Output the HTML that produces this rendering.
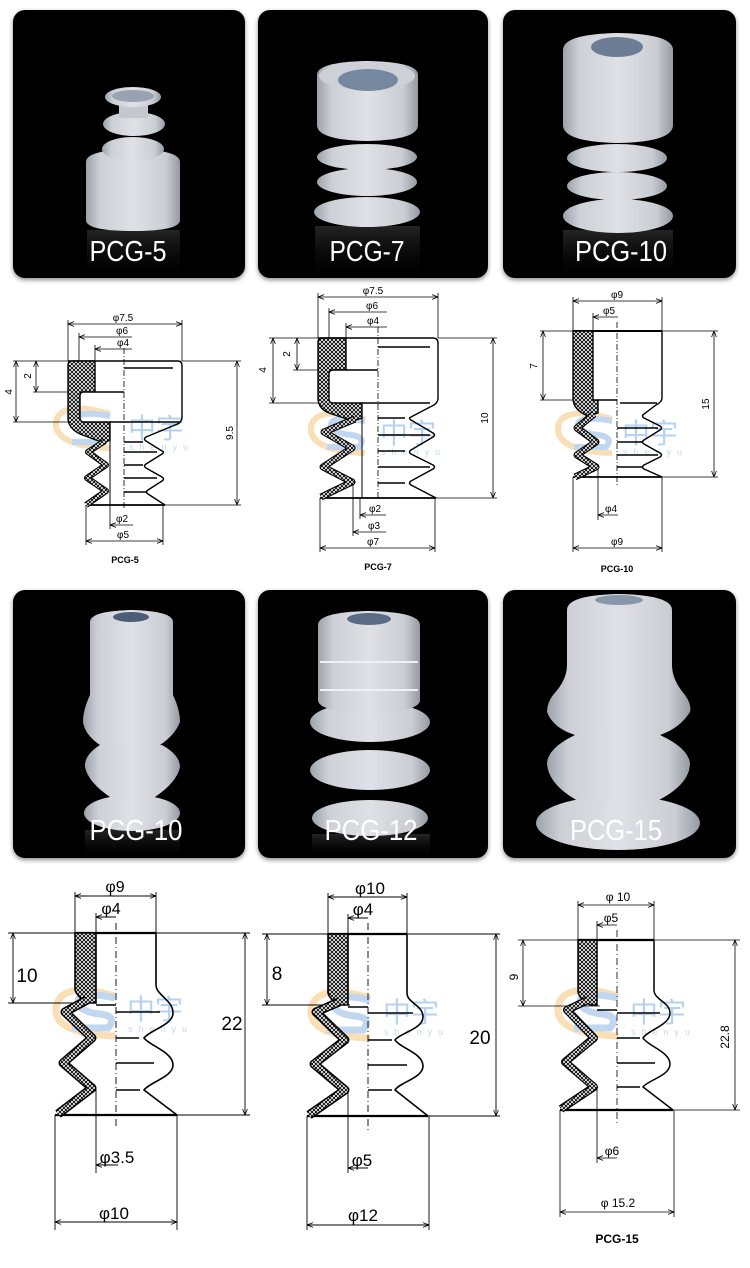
<!DOCTYPE html>
<html><head><meta charset="utf-8"><style>
html,body{margin:0;padding:0;background:#fff;}
svg{display:block;}
text{font-family:"Liberation Sans","Noto Sans CJK SC",sans-serif;}
</style></head><body>
<svg width="750" height="1268" viewBox="0 0 750 1268" xmlns="http://www.w3.org/2000/svg">
<defs>
<pattern id="h" width="4" height="4" patternUnits="userSpaceOnUse"><rect width="4" height="4" fill="#fff"/><path d="M-1,-1L5,5M5,-1L-1,5" stroke="#000" stroke-width="0.9"/></pattern>
<marker id="a" viewBox="0 0 10 10" refX="10" refY="5" markerWidth="7" markerHeight="6" markerUnits="userSpaceOnUse" orient="auto-start-reverse"><path d="M0,1L10,5L0,9" fill="none" stroke="#000" stroke-width="1.3"/></marker>
<linearGradient id="sil" x1="0" x2="1" y1="0" y2="0"><stop offset="0" stop-color="#9da2aa"/><stop offset=".15" stop-color="#cdd0d6"/><stop offset=".5" stop-color="#dfe1e6"/><stop offset=".85" stop-color="#cacdd3"/><stop offset="1" stop-color="#959aa2"/></linearGradient>
<linearGradient id="refl" x1="0" x2="0" y1="0" y2="1"><stop offset="0" stop-color="#666" stop-opacity=".35"/><stop offset="1" stop-color="#222" stop-opacity="0"/></linearGradient>
<filter id="sh" x="-10%" y="-10%" width="120%" height="120%"><feDropShadow dx="0" dy="2" stdDeviation="2.5" flood-color="#000" flood-opacity=".45"/></filter>
</defs>

<!-- ============ PHOTO TILES ============ -->
<g filter="url(#sh)">
<rect x="13" y="10" width="232" height="268" rx="12" fill="#050505"/>
<rect x="258" y="10" width="230" height="268" rx="12" fill="#050505"/>
<rect x="503" y="10" width="233" height="268" rx="12" fill="#050505"/>
<rect x="13" y="590" width="232" height="268" rx="12" fill="#050505"/>
<rect x="258" y="590" width="230" height="268" rx="12" fill="#050505"/>
<rect x="503" y="590" width="233" height="268" rx="12" fill="#050505"/>
</g>

<!-- PCG-5 photo -->
<rect x="87" y="230" width="93" height="46" fill="url(#refl)"/>
<path d="M86,162 Q86,150 133,149 Q180,150 180,162 L180,220 Q180,231 133,231 Q86,231 86,220 Z" fill="url(#sil)"/>
<ellipse cx="133" cy="149" rx="31" ry="12" fill="url(#sil)"/>
<ellipse cx="134" cy="124" rx="31" ry="12" fill="url(#sil)"/>
<rect x="119" y="100" width="29" height="18" fill="#c4c7cd"/>
<ellipse cx="133" cy="97" rx="28" ry="10" fill="url(#sil)"/>
<ellipse cx="133" cy="96" rx="21" ry="6" fill="#98a2b1"/>
<text x="128" y="261" font-size="29" fill="#fff" text-anchor="middle" textLength="77" lengthAdjust="spacingAndGlyphs">PCG-5</text>

<!-- PCG-7 photo -->
<rect x="315" y="226" width="105" height="50" fill="url(#refl)"/>
<ellipse cx="367" cy="212" rx="53" ry="15" fill="url(#sil)"/>
<ellipse cx="367" cy="182" rx="50" ry="14" fill="url(#sil)"/>
<ellipse cx="367" cy="157" rx="50" ry="13" fill="url(#sil)"/>
<path d="M317,75 Q317,62 367,61 Q418,62 418,75 L418,125 Q418,140 367,141 Q317,140 317,125 Z" fill="url(#sil)"/>
<ellipse cx="367" cy="76" rx="48" ry="14" fill="#cdd1d7"/>
<ellipse cx="368" cy="80" rx="30" ry="11" fill="#7688a0"/>
<text x="367" y="261" font-size="29" fill="#fff" text-anchor="middle" textLength="75" lengthAdjust="spacingAndGlyphs">PCG-7</text>

<!-- PCG-10 photo -->
<rect x="563" y="230" width="110" height="46" fill="url(#refl)"/>
<ellipse cx="618" cy="216" rx="55" ry="17" fill="url(#sil)"/>
<ellipse cx="617" cy="186" rx="50" ry="14" fill="url(#sil)"/>
<ellipse cx="617" cy="158" rx="50" ry="14" fill="url(#sil)"/>
<path d="M563,50 Q563,34 618,33 Q673,34 673,50 L673,125 Q673,142 618,143 Q563,142 563,125 Z" fill="url(#sil)"/>
<ellipse cx="617" cy="47" rx="26" ry="10" fill="#6d7d95"/>
<text x="621" y="261" font-size="29" fill="#fff" text-anchor="middle" textLength="92" lengthAdjust="spacingAndGlyphs">PCG-10</text>

<!-- Row 2 PCG-10 photo -->
<rect x="85" y="830" width="95" height="26" fill="url(#refl)"/>
<ellipse cx="132" cy="813" rx="48" ry="18" fill="url(#sil)"/>
<path d="M100,745 Q84,755 85,767 Q88,782 110,797 L155,797 Q177,782 180,767 Q180,755 162,745 Z" fill="url(#sil)"/>
<path d="M90,622 Q90,611 131,610 Q173,611 173,622 L173,695 Q180,710 180,722 Q175,735 160,745 L100,745 Q85,735 83,722 Q83,710 90,695 Z" fill="url(#sil)"/>
<ellipse cx="131" cy="617" rx="18" ry="5" fill="#4c5d75"/>
<text x="136" y="840" font-size="29" fill="#fff" text-anchor="middle" textLength="93" lengthAdjust="spacingAndGlyphs">PCG-10</text>

<!-- Row 2 PCG-12 photo -->
<rect x="312" y="834" width="118" height="22" fill="url(#refl)"/>
<ellipse cx="370" cy="818" rx="58" ry="18" fill="url(#sil)"/>
<ellipse cx="370" cy="770" rx="60" ry="20" fill="url(#sil)"/>
<ellipse cx="370" cy="722" rx="60" ry="20" fill="url(#sil)"/>
<path d="M318,625 Q318,612 369,611 Q420,612 420,625 L420,700 Q420,712 369,713 Q318,712 318,700 Z" fill="url(#sil)"/>
<path d="M320,662 L418,662 M320,690 L418,690" stroke="#eef1f5" stroke-width="2"/>
<ellipse cx="369" cy="619" rx="22" ry="6" fill="#5a6c85"/>
<text x="371" y="840" font-size="29" fill="#fff" text-anchor="middle" textLength="93" lengthAdjust="spacingAndGlyphs">PCG-12</text>

<!-- Row 2 PCG-15 photo -->
<ellipse cx="618" cy="823" rx="82" ry="27" fill="url(#sil)"/>
<path d="M575,735 Q548,748 547,763 Q548,785 580,802 L655,802 Q690,785 690,763 Q688,748 660,735 Z" fill="url(#sil)"/>
<path d="M567,610 Q567,595 619,594 Q672,595 672,610 L672,665 Q672,680 685,695 Q692,705 690,712 Q680,728 660,735 L575,735 Q553,728 547,712 Q547,703 553,695 Q567,680 567,665 Z" fill="url(#sil)"/>
<ellipse cx="619" cy="600" rx="24" ry="5" fill="#8896aa"/>
<text x="616" y="840" font-size="29" fill="#fff" text-anchor="middle" textLength="92" lengthAdjust="spacingAndGlyphs">PCG-15</text>

<!-- ============ WATERMARKS ============ -->
<g opacity="0.8">
<path d="M110,414 Q60,400 56,422 Q54,446 110,448" fill="none" stroke="#f8d7a5" stroke-width="6"/>
<path d="M110,416 Q76,410 76,420 Q78,428 96,430 Q112,432 104,442 L72,442" fill="none" stroke="#b2cdec" stroke-width="6"/>
<text x="128" y="438" font-size="28" fill="#a5c8ee">中宇</text>
<text x="129" y="450" font-size="9" fill="#b5d0ee" letter-spacing="6">shenyu</text>

<path d="M365,419 Q315,405 311,427 Q309,451 365,453" fill="none" stroke="#f8d7a5" stroke-width="6"/>
<path d="M365,421 Q331,415 331,425 Q333,433 351,435 Q367,437 359,447 L327,447" fill="none" stroke="#b2cdec" stroke-width="6"/>
<text x="380" y="443" font-size="28" fill="#a5c8ee">中宇</text>
<text x="381" y="455" font-size="9" fill="#b5d0ee" letter-spacing="6">shenyu</text>

<path d="M612,419 Q562,405 558,427 Q556,451 612,453" fill="none" stroke="#f8d7a5" stroke-width="6"/>
<path d="M612,421 Q578,415 578,425 Q580,433 598,435 Q614,437 606,447 L574,447" fill="none" stroke="#b2cdec" stroke-width="6"/>
<text x="622" y="443" font-size="28" fill="#a5c8ee">中宇</text>
<text x="623" y="455" font-size="9" fill="#b5d0ee" letter-spacing="6">shenyu</text>

<path d="M115,996 Q60,980 56,1008 Q54,1034 115,1036" fill="none" stroke="#f8d7a5" stroke-width="7"/>
<path d="M115,998 Q78,990 78,1002 Q80,1012 100,1014 Q118,1016 108,1028 L72,1028" fill="none" stroke="#b2cdec" stroke-width="7"/>
<text x="127" y="1019" font-size="28" fill="#a5c8ee">中宇</text>
<text x="128" y="1032" font-size="9" fill="#b5d0ee" letter-spacing="6">shenyu</text>

<path d="M370,998 Q315,982 311,1010 Q309,1036 370,1038" fill="none" stroke="#f8d7a5" stroke-width="7"/>
<path d="M370,1000 Q333,992 333,1004 Q335,1014 355,1016 Q373,1018 363,1030 L327,1030" fill="none" stroke="#b2cdec" stroke-width="7"/>
<text x="383" y="1022" font-size="28" fill="#a5c8ee">中宇</text>
<text x="384" y="1035" font-size="9" fill="#b5d0ee" letter-spacing="6">shenyu</text>

<path d="M618,996 Q562,980 558,1008 Q556,1034 618,1036" fill="none" stroke="#f8d7a5" stroke-width="7"/>
<path d="M618,998 Q580,990 580,1002 Q582,1012 602,1014 Q620,1016 610,1028 L574,1028" fill="none" stroke="#b2cdec" stroke-width="7"/>
<text x="630" y="1022" font-size="28" fill="#a5c8ee">中宇</text>
<text x="631" y="1035" font-size="9" fill="#b5d0ee" letter-spacing="6">shenyu</text>
</g>

<!-- ============ DRAWING 1 : PCG-5 ============ -->
<g fill="none" stroke="#000">
<g stroke-width="0.8">
<line x1="68" y1="324" x2="182" y2="324" marker-start="url(#a)" marker-end="url(#a)"/>
<line x1="68" y1="320" x2="68" y2="361"/><line x1="182" y1="320" x2="182" y2="361"/>
<line x1="79" y1="337" x2="132" y2="337" marker-start="url(#a)"/>
<line x1="79" y1="333" x2="79" y2="361"/>
<line x1="95" y1="349" x2="132" y2="349" marker-start="url(#a)"/>
<line x1="95" y1="345" x2="95" y2="361"/>
<line x1="124" y1="348" x2="124" y2="508" stroke-dasharray="6,2,1,2"/>
<line x1="16" y1="361" x2="16" y2="422" marker-start="url(#a)" marker-end="url(#a)"/>
<line x1="13" y1="361" x2="68" y2="361"/><line x1="13" y1="422" x2="68" y2="422"/>
<line x1="36" y1="361" x2="36" y2="392" marker-start="url(#a)" marker-end="url(#a)"/>
<line x1="33" y1="392" x2="95" y2="392"/>
<line x1="237" y1="361" x2="237" y2="505" marker-start="url(#a)" marker-end="url(#a)"/>
<line x1="182" y1="361" x2="241" y2="361"/><line x1="165" y1="505" x2="241" y2="505"/>
<line x1="110" y1="525" x2="133" y2="525" marker-start="url(#a)"/>
<line x1="110" y1="490" x2="110" y2="529"/>
<line x1="86" y1="541" x2="163" y2="541" marker-start="url(#a)" marker-end="url(#a)"/>
<line x1="86" y1="505" x2="86" y2="545"/><line x1="163" y1="505" x2="163" y2="545"/>
</g>
<g stroke-width="1.4">
<path d="M68,361 L178,361 Q182,361 182,366 L182,417 Q182,423 175,425 L146,437 Q143,439 146,441 L162,451 Q165,452 162,454 L146,464 Q143,466 146,468 L162,477 Q165,479 162,481 L148,490 Q145,492 148,494 L165,505"/>
<line x1="86" y1="505" x2="165" y2="505" stroke-width="1.8"/>
<line x1="124" y1="368" x2="173" y2="368"/>
<line x1="95" y1="392" x2="124" y2="392"/>
<line x1="110" y1="422" x2="180" y2="422"/>
<line x1="124" y1="442" x2="143" y2="442"/>
<line x1="124" y1="452" x2="157" y2="452"/>
<line x1="124" y1="465" x2="143" y2="465"/>
<line x1="124" y1="478" x2="157" y2="478"/>
<line x1="124" y1="492" x2="147" y2="492"/>
<line x1="110" y1="422" x2="110" y2="505" stroke-width="1"/>
<path d="M68,365 Q68,361 72,361 L95,361 L95,392 L83,392 Q80,392 80,396 L80,418 Q80,422 84,422 L110,422 L110,440 L104,443 L80,434 Q68,428 68,418 Z" fill="url(#h)"/>
<polyline points="105,441 88,452 106,465 87,478 106,491 86,505" stroke-width="6" stroke-linejoin="round"/>
<polyline points="105,441 88,452 106,465 87,478 106,491 86,505" stroke="url(#h)" stroke-width="3.8" stroke-linejoin="round"/>
</g>
</g>
<g font-size="10" fill="#000" text-anchor="middle">
<text x="123" y="321">φ7.5</text>
<text x="122" y="334">φ6</text>
<text x="123" y="346">φ4</text>
<text x="9" y="392" transform="rotate(-90 9 392)" dy="3">4</text>
<text x="28" y="376" transform="rotate(-90 28 376)" dy="3">2</text>
<text x="230" y="433" transform="rotate(-90 230 433)" dy="3">9.5</text>
<text x="122" y="522">φ2</text>
<text x="123" y="538">φ5</text>
<text x="125" y="563" font-size="9" font-weight="bold">PCG-5</text>
</g>

<!-- ============ DRAWING 2 : PCG-7 ============ -->
<g fill="none" stroke="#000">
<g stroke-width="0.8">
<line x1="318" y1="297" x2="438" y2="297" marker-start="url(#a)" marker-end="url(#a)"/>
<line x1="318" y1="293" x2="318" y2="338"/><line x1="438" y1="293" x2="438" y2="338"/>
<line x1="329" y1="312" x2="387" y2="312" marker-start="url(#a)"/>
<line x1="329" y1="308" x2="329" y2="338"/>
<line x1="346" y1="327" x2="387" y2="327" marker-start="url(#a)"/>
<line x1="346" y1="323" x2="346" y2="338"/>
<line x1="378" y1="327" x2="378" y2="500" stroke-dasharray="6,2,1,2"/>
<line x1="273" y1="338" x2="273" y2="403" marker-start="url(#a)" marker-end="url(#a)"/>
<line x1="269" y1="338" x2="318" y2="338"/><line x1="269" y1="403" x2="318" y2="403"/>
<line x1="297" y1="338" x2="297" y2="370" marker-start="url(#a)" marker-end="url(#a)"/>
<line x1="293" y1="370" x2="346" y2="370"/>
<line x1="493" y1="338" x2="493" y2="498" marker-start="url(#a)" marker-end="url(#a)"/>
<line x1="438" y1="338" x2="497" y2="338"/><line x1="436" y1="498" x2="497" y2="498"/>
<line x1="360" y1="515" x2="386" y2="515" marker-start="url(#a)"/>
<line x1="360" y1="498" x2="360" y2="519"/>
<line x1="353" y1="532" x2="386" y2="532" marker-start="url(#a)"/>
<line x1="353" y1="483" x2="353" y2="536"/>
<line x1="320" y1="548" x2="435" y2="548" marker-start="url(#a)" marker-end="url(#a)"/>
<line x1="320" y1="498" x2="320" y2="552"/><line x1="435" y1="498" x2="435" y2="552"/>
</g>
<g stroke-width="1.4">
<path d="M318,338 L433,338 Q438,338 438,343 L438,398 Q438,404 430,407 L411,417 Q408,418 411,420 L433,433 Q436,435 433,437 L411,450 Q408,452 411,454 L433,465 Q436,467 433,469 L411,481 Q408,483 411,485 L436,498"/>
<line x1="320" y1="498" x2="436" y2="498" stroke-width="1.8"/>
<line x1="378" y1="347" x2="430" y2="347"/>
<line x1="346" y1="370" x2="378" y2="370"/>
<line x1="362" y1="403" x2="430" y2="403"/>
<line x1="378" y1="418" x2="405" y2="418"/>
<line x1="378" y1="435" x2="430" y2="435"/>
<line x1="378" y1="451" x2="405" y2="451"/>
<line x1="378" y1="467" x2="430" y2="467"/>
<line x1="378" y1="483" x2="405" y2="483"/>
<line x1="362" y1="403" x2="362" y2="498" stroke-width="1"/>
<path d="M318,342 Q318,338 322,338 L346,338 L346,370 L333,370 Q329,370 329,374 L329,399 Q329,403 333,403 L362,403 L362,418 L353,421 L332,414 Q318,410 318,398 Z" fill="url(#h)"/>
<polyline points="355,419 324,432 352,448 323,467 352,482 321,497" stroke-width="7" stroke-linejoin="round"/>
<polyline points="355,419 324,432 352,448 323,467 352,482 321,497" stroke="url(#h)" stroke-width="4.8" stroke-linejoin="round"/>
</g>
</g>
<g font-size="10" fill="#000" text-anchor="middle">
<text x="373" y="294">φ7.5</text>
<text x="372" y="309">φ6</text>
<text x="373" y="324">φ4</text>
<text x="263" y="370" transform="rotate(-90 263 370)" dy="3">4</text>
<text x="287" y="354" transform="rotate(-90 287 354)" dy="3">2</text>
<text x="485" y="418" transform="rotate(-90 485 418)" dy="3">10</text>
<text x="375" y="512">φ2</text>
<text x="374" y="529">φ3</text>
<text x="373" y="545">φ7</text>
<text x="378" y="570" font-size="9" font-weight="bold">PCG-7</text>
</g>

<!-- ============ DRAWING 3 : PCG-10 ============ -->
<g fill="none" stroke="#000">
<g stroke-width="0.8">
<line x1="573" y1="301" x2="662" y2="301" marker-start="url(#a)" marker-end="url(#a)"/>
<line x1="573" y1="297" x2="573" y2="331"/><line x1="662" y1="297" x2="662" y2="331"/>
<line x1="593" y1="317" x2="618" y2="317" marker-start="url(#a)"/>
<line x1="593" y1="313" x2="593" y2="331"/>
<line x1="617" y1="322" x2="617" y2="486" stroke-dasharray="6,2,1,2"/>
<line x1="543" y1="331" x2="543" y2="400" marker-start="url(#a)" marker-end="url(#a)"/>
<line x1="540" y1="331" x2="573" y2="331"/><line x1="540" y1="400" x2="598" y2="400"/>
<line x1="714" y1="331" x2="714" y2="477" marker-start="url(#a)" marker-end="url(#a)"/>
<line x1="662" y1="331" x2="718" y2="331"/><line x1="662" y1="477" x2="718" y2="477"/>
<line x1="598" y1="515" x2="618" y2="515" marker-start="url(#a)"/>
<line x1="598" y1="467" x2="598" y2="520"/>
<line x1="573" y1="548" x2="662" y2="548" marker-start="url(#a)" marker-end="url(#a)"/>
<line x1="573" y1="477" x2="573" y2="552"/><line x1="662" y1="477" x2="662" y2="552"/>
</g>
<g stroke-width="1.4">
<line x1="573" y1="331" x2="662" y2="331" stroke-width="2"/>
<path d="M662,331 L662,398 Q662,402 656,405 L644,414 Q641,416 644,418 L660,426 Q663,428 660,430 L644,440 Q641,442 644,444 L660,453 Q663,455 660,457 L644,465 Q641,467 644,469 L662,477"/>
<line x1="573" y1="477" x2="662" y2="477" stroke-width="1.8"/>
<line x1="598" y1="400" x2="617" y2="400"/>
<line x1="620" y1="403" x2="657" y2="403"/>
<line x1="617" y1="428" x2="658" y2="428"/>
<line x1="617" y1="442" x2="642" y2="442"/>
<line x1="617" y1="455" x2="658" y2="455"/>
<line x1="617" y1="467" x2="642" y2="467"/>
<path d="M573,331 L593,331 L593,400 L598,400 L598,413 L588,416 Q573,410 573,398 Z" fill="url(#h)"/>
<polyline points="594,414 577,428 596,442 577,455 596,467 575,477" stroke-width="7" stroke-linejoin="round"/>
<polyline points="594,414 577,428 596,442 577,455 596,467 575,477" stroke="url(#h)" stroke-width="4.8" stroke-linejoin="round"/>
</g>
</g>
<g font-size="10" fill="#000" text-anchor="middle">
<text x="617" y="298">φ9</text>
<text x="609" y="314">φ5</text>
<text x="534" y="366" transform="rotate(-90 534 366)" dy="3">7</text>
<text x="706" y="404" transform="rotate(-90 706 404)" dy="3">15</text>
<text x="611" y="512">φ4</text>
<text x="617" y="545">φ9</text>
<text x="617" y="572" font-size="9" font-weight="bold">PCG-10</text>
</g>

<!-- ============ DRAWING 4 : PCG-10 (22) ============ -->
<g fill="none" stroke="#000">
<g stroke-width="0.9">
<line x1="75" y1="896" x2="156" y2="896" marker-start="url(#a)" marker-end="url(#a)"/>
<line x1="75" y1="892" x2="75" y2="933"/><line x1="156" y1="892" x2="156" y2="933"/>
<line x1="96" y1="917" x2="116" y2="917" marker-start="url(#a)"/>
<line x1="96" y1="913" x2="96" y2="933"/>
<line x1="116" y1="923" x2="116" y2="1128" stroke-dasharray="7,3,1,3"/>
<line x1="13" y1="933" x2="13" y2="1003" marker-start="url(#a)" marker-end="url(#a)"/>
<line x1="8" y1="933" x2="75" y2="933"/><line x1="8" y1="1003" x2="95" y2="1003"/>
<line x1="245" y1="933" x2="245" y2="1115" marker-start="url(#a)" marker-end="url(#a)"/>
<line x1="156" y1="933" x2="250" y2="933"/><line x1="177" y1="1115" x2="250" y2="1115"/>
<line x1="96" y1="1165" x2="118" y2="1165" marker-start="url(#a)"/>
<line x1="96" y1="1088" x2="96" y2="1173"/>
<line x1="55" y1="1222" x2="177" y2="1222" marker-start="url(#a)" marker-end="url(#a)"/>
<line x1="55" y1="1115" x2="55" y2="1230"/><line x1="177" y1="1115" x2="177" y2="1230"/>
</g>
<g stroke-width="1.6">
<line x1="75" y1="933" x2="156" y2="933" stroke-width="2.2"/>
<path d="M156,933 L156,985 C156,995 173,1000 173,1013 C173,1025 150,1030 144,1038 C150,1046 173,1052 173,1065 C173,1077 150,1082 144,1090 L177,1115"/>
<line x1="55" y1="1115" x2="177" y2="1115" stroke-width="2.2"/>
<line x1="96" y1="1005" x2="116" y2="1005"/>
<line x1="116" y1="1012" x2="160" y2="1012"/>
<line x1="116" y1="1038" x2="139" y2="1038"/>
<line x1="116" y1="1063" x2="154" y2="1063"/>
<line x1="116" y1="1090" x2="140" y2="1090"/>
<path d="M75,933 L96,933 L96,1003 L88,1003 Q78,998 75,990 Z" fill="url(#h)"/>
<polyline points="87,1000 65,1012 92,1038 63,1063 92,1088 58,1114" stroke-width="9" stroke-linejoin="round"/>
<polyline points="87,1000 65,1012 92,1038 63,1063 92,1088 58,1114" stroke="url(#h)" stroke-width="6" stroke-linejoin="round"/>
</g>
</g>
<g fill="#000" text-anchor="middle">
<text x="115" y="892" font-size="16">φ9</text>
<text x="111" y="914" font-size="16">φ4</text>
<text x="27" y="982" font-size="19">10</text>
<text x="232" y="1030" font-size="19">22</text>
<text x="117" y="1163" font-size="17">φ3.5</text>
<text x="114" y="1219" font-size="17">φ10</text>
</g>

<!-- ============ DRAWING 5 : PCG-12 ============ -->
<g fill="none" stroke="#000">
<g stroke-width="0.9">
<line x1="328" y1="897" x2="407" y2="897" marker-start="url(#a)" marker-end="url(#a)"/>
<line x1="328" y1="893" x2="328" y2="934"/><line x1="407" y1="893" x2="407" y2="934"/>
<line x1="348" y1="918" x2="368" y2="918" marker-start="url(#a)"/>
<line x1="348" y1="914" x2="348" y2="934"/>
<line x1="368" y1="923" x2="368" y2="1130" stroke-dasharray="7,3,1,3"/>
<line x1="267" y1="934" x2="267" y2="1005" marker-start="url(#a)" marker-end="url(#a)"/>
<line x1="262" y1="934" x2="328" y2="934"/><line x1="262" y1="1005" x2="350" y2="1005"/>
<line x1="496" y1="934" x2="496" y2="1116" marker-start="url(#a)" marker-end="url(#a)"/>
<line x1="407" y1="934" x2="500" y2="934"/><line x1="428" y1="1116" x2="500" y2="1116"/>
<line x1="348" y1="1168" x2="368" y2="1168" marker-start="url(#a)"/>
<line x1="348" y1="1090" x2="348" y2="1173"/>
<line x1="307" y1="1225" x2="429" y2="1225" marker-start="url(#a)" marker-end="url(#a)"/>
<line x1="307" y1="1116" x2="307" y2="1230"/><line x1="429" y1="1116" x2="429" y2="1230"/>
</g>
<g stroke-width="1.6">
<line x1="328" y1="934" x2="407" y2="934" stroke-width="2.2"/>
<path d="M407,934 L407,993 C407,1003 423,1005 423,1017 C423,1029 400,1033 395,1040 C400,1048 423,1053 423,1066 C423,1078 400,1082 395,1090 L428,1116"/>
<line x1="307" y1="1116" x2="428" y2="1116" stroke-width="2.2"/>
<line x1="348" y1="1007" x2="368" y2="1007"/>
<line x1="368" y1="1013" x2="413" y2="1013"/>
<line x1="368" y1="1040" x2="392" y2="1040"/>
<line x1="368" y1="1065" x2="407" y2="1065"/>
<line x1="368" y1="1090" x2="392" y2="1090"/>
<path d="M328,934 L348,934 L348,1005 L340,1005 Q330,1000 328,993 Z" fill="url(#h)"/>
<polyline points="339,1002 316,1012 345,1040 314,1064 345,1090 309,1115" stroke-width="9" stroke-linejoin="round"/>
<polyline points="339,1002 316,1012 345,1040 314,1064 345,1090 309,1115" stroke="url(#h)" stroke-width="6" stroke-linejoin="round"/>
</g>
</g>
<g fill="#000" text-anchor="middle">
<text x="370" y="894" font-size="17">φ10</text>
<text x="363" y="915" font-size="17">φ4</text>
<text x="277" y="980" font-size="19">8</text>
<text x="480" y="1044" font-size="19">20</text>
<text x="362" y="1166" font-size="17">φ5</text>
<text x="363" y="1221" font-size="17">φ12</text>
</g>

<!-- ============ DRAWING 6 : PCG-15 ============ -->
<g fill="none" stroke="#000">
<g stroke-width="0.8">
<line x1="578" y1="905" x2="654" y2="905" marker-start="url(#a)" marker-end="url(#a)"/>
<line x1="578" y1="901" x2="578" y2="940"/><line x1="654" y1="901" x2="654" y2="940"/>
<line x1="597" y1="925" x2="617" y2="925" marker-start="url(#a)"/>
<line x1="597" y1="921" x2="597" y2="940"/>
<line x1="617" y1="930" x2="617" y2="1123" stroke-dasharray="7,3,1,3"/>
<line x1="523" y1="940" x2="523" y2="1006" marker-start="url(#a)" marker-end="url(#a)"/>
<line x1="518" y1="940" x2="578" y2="940"/><line x1="518" y1="1006" x2="600" y2="1006"/>
<line x1="735" y1="940" x2="735" y2="1110" marker-start="url(#a)" marker-end="url(#a)"/>
<line x1="654" y1="940" x2="740" y2="940"/><line x1="673" y1="1110" x2="740" y2="1110"/>
<line x1="597" y1="1158" x2="617" y2="1158" marker-start="url(#a)"/>
<line x1="597" y1="1087" x2="597" y2="1163"/>
<line x1="560" y1="1212" x2="674" y2="1212" marker-start="url(#a)" marker-end="url(#a)"/>
<line x1="560" y1="1110" x2="560" y2="1217"/><line x1="674" y1="1110" x2="674" y2="1217"/>
</g>
<g stroke-width="1.5">
<line x1="578" y1="940" x2="654" y2="940" stroke-width="2.2"/>
<path d="M654,940 L654,990 C654,1000 670,1002 670,1013 C670,1025 648,1030 643,1038 C648,1046 670,1052 670,1064 C670,1076 648,1080 643,1087 L673,1110"/>
<line x1="560" y1="1110" x2="673" y2="1110" stroke-width="2.2"/>
<line x1="597" y1="1010" x2="617" y2="1010"/>
<line x1="617" y1="1013" x2="660" y2="1013"/>
<line x1="617" y1="1038" x2="640" y2="1038"/>
<line x1="617" y1="1063" x2="655" y2="1063"/>
<line x1="617" y1="1087" x2="640" y2="1087"/>
<path d="M578,940 L597,940 L597,1005 L590,1005 Q580,1000 578,992 Z" fill="url(#h)"/>
<polyline points="588,1000 567,1010 594,1038 565,1062 594,1087 561,1109" stroke-width="8" stroke-linejoin="round"/>
<polyline points="588,1000 567,1010 594,1038 565,1062 594,1087 561,1109" stroke="url(#h)" stroke-width="5.5" stroke-linejoin="round"/>
</g>
</g>
<g font-size="12" fill="#000" text-anchor="middle">
<text x="618" y="901">φ 10</text>
<text x="611" y="922">φ5</text>
<text x="514" y="977" transform="rotate(-90 514 977)" dy="4">9</text>
<text x="725" y="1037" transform="rotate(-90 725 1037)" dy="4">22.8</text>
<text x="612" y="1155">φ6</text>
<text x="618" y="1207">φ 15.2</text>
<text x="617" y="1243" font-weight="bold">PCG-15</text>
</g>
</svg>
</body></html>
